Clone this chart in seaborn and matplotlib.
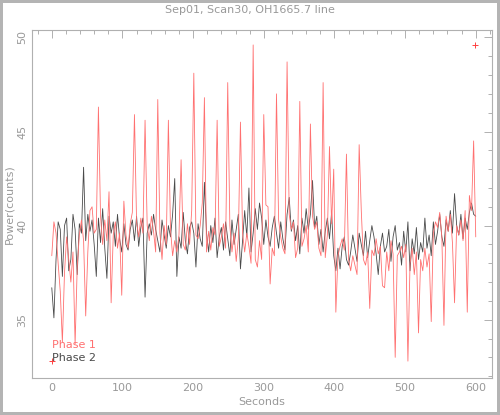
import numpy as np
import pandas as pd
import matplotlib
matplotlib.use("Agg")
import matplotlib.pyplot as plt
from matplotlib.ticker import MultipleLocator
import seaborn as sns

seconds = list(range(0, 601, 3))

phase1 = [
    38.4, 40.2, 39.6, 38.0, 36.5, 33.8, 37.5, 39.4, 38.2, 37.0,
    38.6, 33.7, 37.8, 39.5, 40.3, 39.2, 35.2, 38.6, 40.8, 41.0,
    39.6, 39.8, 46.3, 40.5, 39.0, 40.3, 39.2, 41.8, 35.9, 39.5,
    40.2, 38.8, 39.6, 36.3, 41.3, 39.5, 38.8, 40.1, 40.7, 45.9,
    40.2, 39.4, 40.4, 39.6, 45.6, 40.0, 39.2, 40.5, 39.7, 38.6,
    46.7, 39.6, 38.2, 40.0, 39.0, 45.6, 39.8, 38.4, 39.2, 38.6,
    39.5, 43.5, 39.0, 38.7, 40.1, 39.0, 40.8, 48.1, 39.5, 39.3,
    40.0, 41.2, 46.8, 38.6, 39.7, 38.7, 39.9, 39.5, 45.6, 38.9,
    39.4, 40.1, 38.8, 47.6, 40.0, 38.6, 39.6, 38.1, 39.3, 45.5,
    39.6, 38.6, 39.6, 38.9, 38.0, 49.6, 38.2, 37.8, 39.2, 38.2,
    45.9, 41.1, 41.0, 36.9, 38.8, 38.4, 47.0, 40.3, 39.4, 38.8,
    38.5, 48.7, 40.6, 39.8, 40.2, 38.3, 38.8, 46.6, 38.9, 39.3,
    40.0, 38.6, 45.4, 40.5, 39.8, 40.2, 38.8, 38.4, 47.6, 38.3,
    39.5, 44.2, 40.1, 43.0, 35.4, 38.4, 38.9, 39.3, 38.7, 43.8,
    38.2, 37.6, 38.4, 37.9, 37.4, 44.3, 40.8, 38.2, 37.9, 38.6,
    35.6, 38.7, 38.4, 39.3, 38.5, 38.9, 36.8, 36.7, 38.6, 37.6,
    39.2, 38.5, 33.0, 38.4, 38.6, 38.9, 38.3, 39.0, 32.8, 38.0,
    38.8, 37.4, 38.6, 34.3, 38.2, 37.6, 38.8, 37.8, 38.5, 34.9,
    39.6, 40.2, 39.9, 40.7, 39.4, 34.7, 40.5, 39.7, 40.6, 39.1,
    35.9, 40.0, 39.5, 40.3, 39.2, 40.8, 35.4, 41.6, 40.8, 44.5,
    39.4,
]

phase2 = [
    36.7, 35.1, 38.2, 40.2, 39.8, 37.3, 40.0, 40.4, 37.6, 38.2,
    40.6, 39.8, 37.4, 40.1, 39.6, 43.1, 39.2, 40.6, 39.7, 40.3,
    39.0, 37.3, 40.4, 39.1, 40.9, 38.8, 37.2, 40.5, 39.6, 40.2,
    38.9, 40.6, 39.3, 38.6, 40.1, 39.0, 38.7, 39.8, 40.3, 39.2,
    40.5, 38.9, 39.9, 40.4, 36.2, 39.6, 40.1, 39.5, 40.6, 39.8,
    39.2, 38.6, 40.3, 39.5, 38.8, 40.0, 39.4, 40.6, 42.5, 37.3,
    39.4, 38.8, 40.7, 39.2, 38.5, 39.9, 40.2, 39.6, 37.8, 40.1,
    39.3, 38.9, 42.3, 39.6, 38.6, 40.0, 39.1, 40.4, 38.3, 39.4,
    39.9, 38.7, 40.2, 39.3, 38.4, 40.3, 39.0, 39.8, 40.6, 37.7,
    39.2, 40.8, 39.4, 42.0, 38.6, 39.6, 40.9, 39.8, 41.2, 40.4,
    39.0, 40.3, 39.4, 38.9, 39.9, 40.5, 39.6, 38.8, 40.2, 39.3,
    38.7, 40.6, 41.5, 39.7, 40.3, 39.2, 40.0, 38.5, 40.4, 39.6,
    40.9, 39.8, 40.6, 42.4, 39.9, 40.5, 39.0, 39.8, 38.6, 39.7,
    40.4, 39.3, 40.7, 38.4, 37.6, 38.8, 37.7, 38.9, 39.4, 38.2,
    37.9, 38.6, 39.5, 38.8, 38.1, 39.6, 39.0, 38.4, 39.7, 38.3,
    39.2, 40.0, 39.4, 38.5, 37.4, 38.9, 39.6, 38.6, 38.9, 39.8,
    38.1, 39.4, 40.0, 38.7, 39.1, 37.9, 39.7, 38.6, 40.2, 37.6,
    39.3, 38.5, 39.9, 38.2, 39.1, 38.6, 40.4, 38.8, 39.5, 38.4,
    40.2, 39.0, 39.7, 40.6, 39.4, 38.9, 40.3, 39.7, 40.8, 39.6,
    41.7, 40.0, 39.5, 40.6, 39.3, 40.4, 39.8, 40.7, 41.2, 40.6,
    40.5,
]

marker_x = [0, 599]
marker_y = [32.8, 49.6]

legend_labels = ["Phase 1", "Phase 2"]
title = "Sep01, Scan30, OH1665.7 line"

sns.set_style("white")
plt.rcParams["font.family"] = ["DejaVu Sans"]

red = "#ff7070"
dark = "#4a4a4a"
txt = "#999999"
frame = "#b0b0b0"

df = pd.DataFrame({"Seconds": seconds * 2,
                   "Power": phase1 + phase2,
                   "Phase": [legend_labels[0]] * len(seconds) + [legend_labels[1]] * len(seconds)})

fig = plt.figure(figsize=(5.0, 4.15), dpi=100)
fig.patch.set_facecolor("white")
fig.patch.set_edgecolor("#b4b4b4")
fig.patch.set_linewidth(3)
ax = fig.add_axes([0.064, 0.089, 0.920, 0.839])

sns.lineplot(data=df[df.Phase == legend_labels[1]], x="Seconds", y="Power", ax=ax,
             color=dark, linewidth=0.6, legend=False)
sns.lineplot(data=df[df.Phase == legend_labels[0]], x="Seconds", y="Power", ax=ax,
             color=red, linewidth=0.6, legend=False)
ax.scatter(marker_x, marker_y, marker="+", color="#ff4040", s=16, linewidths=0.7, zorder=5)

ax.set_xlim(-28, 623)
ax.set_ylim(31.9, 50.4)
ax.xaxis.set_major_locator(MultipleLocator(100))
ax.xaxis.set_minor_locator(MultipleLocator(20))
ax.yaxis.set_major_locator(MultipleLocator(5))
ax.yaxis.set_minor_locator(MultipleLocator(1))
ax.tick_params(which="both", direction="in", top=True, right=True,
               color=frame, labelcolor=txt, labelsize=8)
ax.tick_params(which="major", length=6, width=0.7)
ax.tick_params(which="minor", length=3, width=0.7)
for lab in ax.get_yticklabels():
    lab.set_rotation(90)
    lab.set_va("center")
for s in ax.spines.values():
    s.set_color(frame)
    s.set_linewidth(0.8)

ax.set_xlabel("Seconds", color=txt, fontsize=8, labelpad=3)
ax.set_ylabel("Power(counts)", color=txt, fontsize=8, labelpad=2)
fig.text(0.5, 0.976, title, ha="center", va="center", color=txt, fontsize=8)

ax.text(0, 33.67, legend_labels[0], color=red, fontsize=8, va="center", ha="left")
ax.text(0, 32.98, legend_labels[1], color=dark, fontsize=8, va="center", ha="left")

fig.savefig("out.png", dpi=100, facecolor=fig.get_facecolor(), edgecolor=fig.get_edgecolor())
